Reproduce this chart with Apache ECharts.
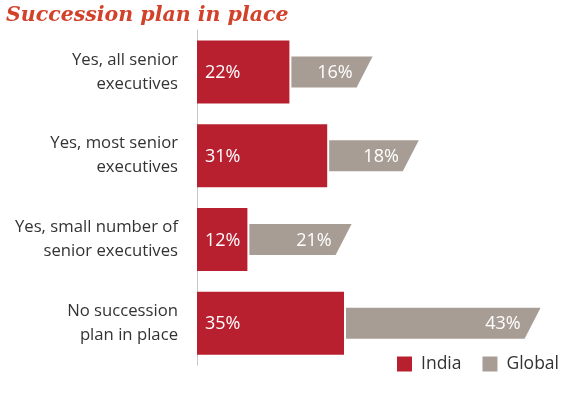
<!DOCTYPE html>
<html><head><meta charset="utf-8">
<script src="https://cdn.jsdelivr.net/npm/echarts@6/dist/echarts.min.js"></script>
<style>html,body{margin:0;padding:0;background:#fff}#c{width:561px;height:395px}</style>
</head><body><div id="c"></div>
<script>
var categories = ["Yes, all senior\nexecutives", "Yes, most senior\nexecutives", "Yes, small number of\nsenior executives", "No succession\nplan in place"];
var india = [22, 31, 12, 35];
var global = [16, 18, 21, 43];
var seriesNames = ["India", "Global"];
var titleText = "Succession plan in place";

var RED = "#b8202f", GRAY = "#a89d94";
var chart = echarts.init(document.getElementById('c'), null, {renderer: 'canvas'});

function indiaItem(params, api) {
  var i = api.value(0), v = api.value(1);
  var p0 = api.coord([0, i]), p1 = api.coord([v, i]);
  var h = 63;
  return {type: 'group', children: [
    {type: 'rect', shape: {x: p0[0], y: p0[1] - h/2, width: p1[0] - p0[0], height: h}, style: {fill: RED}},
    {type: 'text', style: {x: p0[0] + 8, y: p0[1] + 1, text: v + '%', fill: '#fff', font: '18px "Open Sans"', verticalAlign: 'middle', align: 'left'}}
  ]};
}
function globalItem(params, api) {
  var i = api.value(0), base = api.value(1), v = api.value(2);
  var p0 = api.coord([base, i]), p1 = api.coord([base + v, i]);
  var h = 31, slant = 16, x0 = p0[0] + 2, x1 = p1[0];
  var yt = p0[1] - h/2, yb = p0[1] + h/2;
  return {type: 'group', children: [
    {type: 'polygon', shape: {points: [[x0, yt], [x1 + slant, yt], [x1, yb], [x0, yb]]}, style: {fill: GRAY}},
    {type: 'text', style: {x: x1 - 4, y: p0[1] + 1, text: v + '%', fill: '#fff', font: '18px "Open Sans"', verticalAlign: 'middle', align: 'right'}}
  ]};
}

chart.setOption({
  animation: false,
  title: {text: titleText, left: 1, top: 1, textStyle: {fontFamily: 'DejaVu Serif', fontStyle: 'italic', fontWeight: 'bold', fontSize: 20.5, color: '#d2412a'}},
  legend: {data: [{name: seriesNames[0], icon: 'rect'}, {name: seriesNames[1], icon: 'rect'}], right: 2, top: 355, itemWidth: 15, itemHeight: 15, itemGap: 21, padding: 0,
    textStyle: {fontFamily: 'Open Sans', fontSize: 17.5, color: '#333', padding: [0, 0, 0, 4]}},
  grid: {left: 197, right: 28, top: 30, bottom: 30},
  xAxis: {type: 'value', min: 0, max: 80, show: false},
  yAxis: {type: 'category', data: categories, inverse: true,
    axisLine: {show: true, lineStyle: {color: '#c8c8c8', width: 1}}, axisTick: {show: false},
    axisLabel: {margin: 19, fontFamily: 'Open Sans', fontSize: 16.7, color: '#333', lineHeight: 24, align: 'right'}},
  series: [
    {name: seriesNames[0], type: 'custom', itemStyle: {color: RED}, renderItem: indiaItem,
      encode: {x: 1, y: 0}, data: india.map(function (v, i) { return [i, v]; })},
    {name: seriesNames[1], type: 'custom', itemStyle: {color: GRAY}, renderItem: globalItem,
      encode: {x: 1, y: 0}, data: global.map(function (v, i) { return [i, india[i], v]; })}
  ]
});
</script></body></html>
